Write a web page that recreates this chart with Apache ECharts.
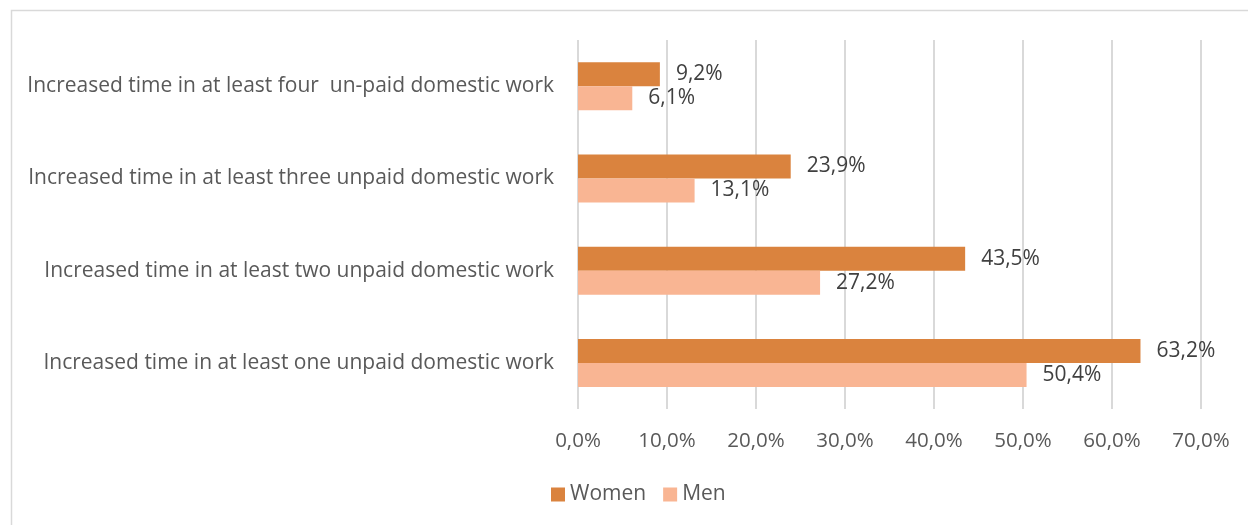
<!DOCTYPE html>
<html>
<head>
<meta charset="utf-8">
<script src="https://cdn.jsdelivr.net/npm/echarts@6/dist/echarts.min.js"></script>
<style>
  html, body { margin: 0; padding: 0; background: #fff; }
  #chart { width: 1248px; height: 525px; }
</style>
</head>
<body>
<div id="chart"></div>
<script>
// categories, bottom to top as drawn by the y axis
const categories = [
  'Increased time in at least one unpaid domestic work',
  'Increased time in at least two unpaid domestic work',
  'Increased time in at least three unpaid domestic work',
  'Increased time in at least four  un-paid domestic work'
]
const women = [63.2, 43.5, 23.9, 9.2]
const men = [50.4, 27.2, 13.1, 6.1]
const seriesNames = ['Women', 'Men']

const FONT = 'Open Sans'
const fmt = v => v.toFixed(1).replace('.', ',') + '%'

const chart = echarts.init(document.getElementById('chart'))

chart.setOption({
  animation: false,
  textStyle: { fontFamily: FONT },
  graphic: [{
    type: 'rect',
    shape: { x: 11.5, y: 10.5, width: 1260, height: 540 },
    style: { fill: 'none', stroke: '#d9d9d9', lineWidth: 1.5 },
    silent: true
  }],
  legend: {
    data: seriesNames,
    left: 546,
    top: 479,
    itemWidth: 14,
    itemHeight: 14,
    itemGap: 17,
    icon: 'rect',
    textStyle: { fontSize: 21, color: '#595959', fontFamily: FONT }
  },
  grid: { left: 578, right: 47, top: 40, bottom: 116, containLabel: false },
  xAxis: {
    type: 'value',
    min: 0,
    max: 70,
    interval: 10,
    axisLine: { show: false },
    axisTick: { show: false },
    splitLine: { lineStyle: { color: '#d9d9d9', width: 2 } },
    axisLabel: {
      formatter: fmt,
      fontSize: 20.5,
      color: '#595959',
      margin: 22,
      fontFamily: FONT
    }
  },
  yAxis: {
    type: 'category',
    data: categories,
    axisLine: { show: false },
    axisTick: { show: false },
    axisLabel: { fontSize: 21, color: '#595959', margin: 24, fontFamily: FONT }
  },
  series: [
    {
      name: 'Women',
      type: 'bar',
      data: women,
      barWidth: 24,
      barGap: '0%',
      itemStyle: { color: '#DA833E' },
      label: {
        show: true,
        position: 'right',
        distance: 16,
        formatter: p => fmt(p.value),
        fontSize: 21,
        color: '#404040',
        fontFamily: FONT
      }
    },
    {
      name: 'Men',
      type: 'bar',
      data: men,
      barWidth: 24,
      barGap: '0%',
      itemStyle: { color: '#F9B593' },
      label: {
        show: true,
        position: 'right',
        distance: 16,
        formatter: p => fmt(p.value),
        fontSize: 21,
        color: '#404040',
        fontFamily: FONT
      }
    }
  ]
})

window.addEventListener('resize', () => chart.resize())
</script>
</body>
</html>
